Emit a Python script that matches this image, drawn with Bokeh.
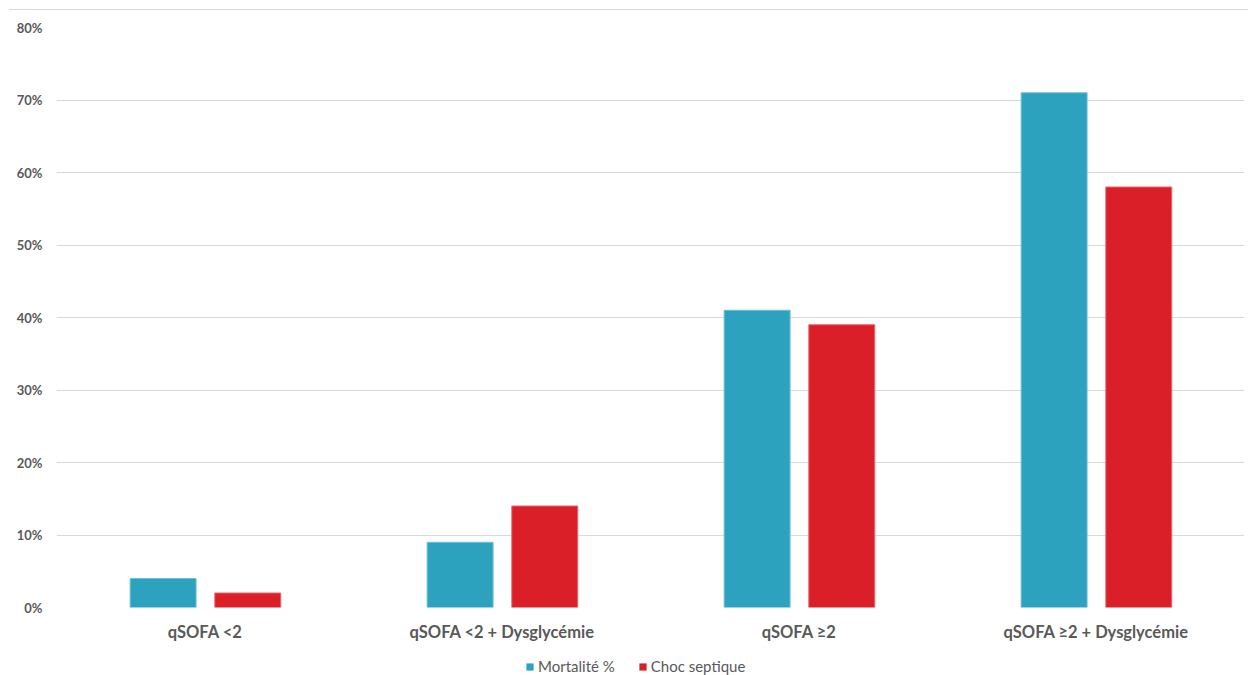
from bokeh.plotting import figure
from bokeh.layouts import column, row
from bokeh.models import (FactorRange, Range1d, FixedTicker, PrintfTickFormatter,
                          Legend, LegendItem, Div, Spacer)
from bokeh.transform import dodge
from bokeh.embed import file_html
from bokeh.resources import INLINE

categories = ["qSOFA <2", "qSOFA <2 + Dysglycémie", "qSOFA ≥2", "qSOFA ≥2 + Dysglycémie"]
mortalite = [4, 9, 41, 71]
choc = [2, 14, 39, 58]
series_names = ["Mortalité %", "Choc septique"]
y_ticks = [0, 10, 20, 30, 40, 50, 60, 70, 80]

FONT = "Lato"
GRAY = "#595959"
BLUE = "#2CA2BF"
RED = "#DA1F28"

p = figure(width=1248, height=640, x_range=FactorRange(factors=categories, range_padding=0),
           y_range=Range1d(0, 80), output_backend="svg", toolbar_location=None,
           min_border_left=56, min_border_right=4, min_border_top=17, min_border_bottom=43)
p.outline_line_color = None
p.background_fill_color = "white"
p.border_fill_color = "white"

data = dict(cat=categories, m=mortalite, c=choc)
r1 = p.vbar(x=dodge("cat", -0.141, range=p.x_range), top="m", width=0.222, source=data,
            fill_color=BLUE, line_color="#6FC0D6", line_width=1)
r2 = p.vbar(x=dodge("cat", 0.144, range=p.x_range), top="c", width=0.222, source=data,
            fill_color=RED, line_color="#E8656B", line_width=1)

p.ygrid.grid_line_color = "#D9D9D9"
p.ygrid.grid_line_width = 1
p.xgrid.grid_line_color = None

p.yaxis.ticker = FixedTicker(ticks=y_ticks)
p.yaxis.formatter = PrintfTickFormatter(format="%d%%")
p.yaxis.axis_line_color = None
p.yaxis.major_tick_line_color = None
p.yaxis.minor_tick_line_color = None
p.yaxis.major_label_text_font = FONT
p.yaxis.major_label_text_font_style = "bold"
p.yaxis.major_label_text_font_size = "13px"
p.yaxis.major_label_text_color = GRAY
p.yaxis.major_label_standoff = 8

p.xaxis.axis_line_color = None
p.xaxis.major_tick_line_color = None
p.xaxis.major_label_text_font = FONT
p.xaxis.major_label_text_font_style = "bold"
p.xaxis.major_label_text_font_size = "16.5px"
p.xaxis.major_label_text_color = GRAY
p.xaxis.major_label_standoff = 8

# top border line of the chart area
top_rule = row(Spacer(width=9, height=1, margin=0),
               Div(text="", width=1239, height=1, margin=0,
                   styles={"background-color": "#D9D9D9", "overflow": "hidden"}),
               spacing=0)

# legend strip
leg = figure(width=1248, height=25, x_range=Range1d(0, 1), y_range=Range1d(0, 1),
             output_backend="svg", toolbar_location=None,
             x_axis_location=None, y_axis_location=None,
             min_border=0, min_border_left=0, min_border_right=0,
             min_border_top=0, min_border_bottom=0)
leg.grid.visible = False
leg.outline_line_color = None
lr1 = leg.vbar(x=[50], top=[-50], bottom=[-60], width=0.1, fill_color=BLUE, line_color=None)
lr2 = leg.vbar(x=[50], top=[-50], bottom=[-60], width=0.1, fill_color=RED, line_color=None)
legend = Legend(items=[LegendItem(label=series_names[0], renderers=[lr1]),
                       LegendItem(label=series_names[1], renderers=[lr2])],
                orientation="horizontal", location=(469, 0),
                glyph_width=9, glyph_height=9, label_text_font=FONT,
                label_text_font_size="15px", label_text_color=GRAY,
                label_height=16, label_standoff=4, spacing=23, border_line_color=None,
                background_fill_alpha=0, margin=0, padding=0)
leg.add_layout(legend, "center")

layout = column(Spacer(width=1248, height=9, margin=0), top_rule, p, leg, spacing=0)
open("out.html", "w").write(file_html(layout, INLINE))
